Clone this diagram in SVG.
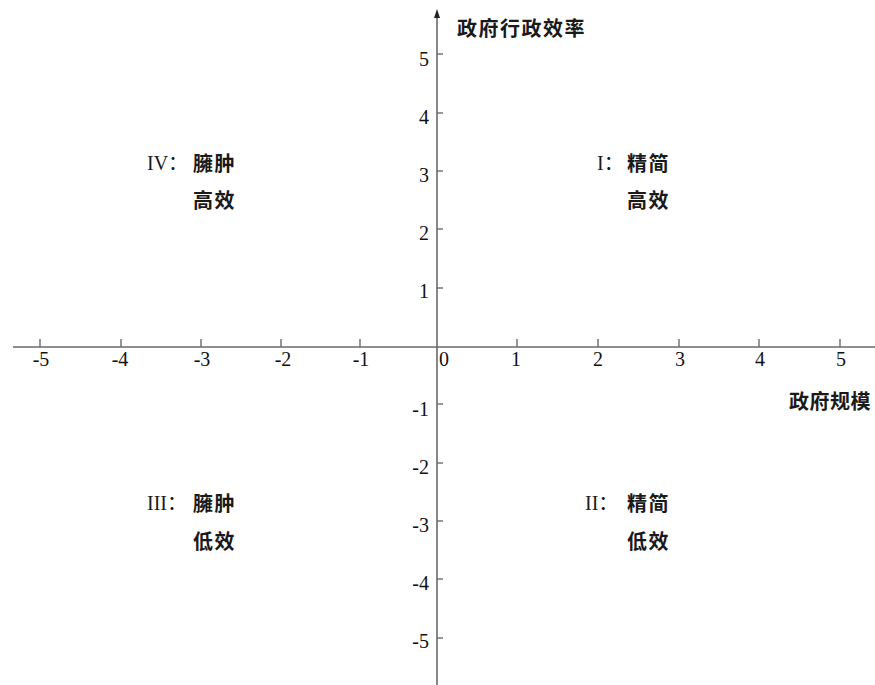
<svg xmlns="http://www.w3.org/2000/svg" width="875" height="685" viewBox="0 0 875 685">
<style>
.ax{stroke:#6a6a6a;stroke-width:1.6;fill:none}
.tk{stroke:#6a6a6a;stroke-width:1.4}
.num{font-family:"Liberation Serif","Noto Sans CJK SC",serif;font-size:20px;fill:#111}
.cjk{font-family:"Noto Sans CJK SC",sans-serif;font-size:20px;font-weight:bold;fill:#1a1a1a;letter-spacing:1.5px}
.rom{font-family:"Liberation Serif","Noto Sans CJK SC",serif;font-size:20px;fill:#1a1a1a}
</style>
<g id="connectors">
<line class="ax" x1="13" y1="347" x2="875" y2="347"/>
<line class="ax" x1="437" y1="685" x2="437" y2="14"/>
<path d="M437,9 L434,18 L440,18 Z" fill="#222"/>
</g>
<g id="x-ticks">
<line class="tk" x1="40" y1="339" x2="40" y2="347"/>
<line class="tk" x1="121" y1="339" x2="121" y2="347"/>
<line class="tk" x1="201" y1="339" x2="201" y2="347"/>
<line class="tk" x1="281" y1="339" x2="281" y2="347"/>
<line class="tk" x1="360" y1="339" x2="360" y2="347"/>
<line class="tk" x1="517" y1="339" x2="517" y2="347"/>
<line class="tk" x1="598" y1="339" x2="598" y2="347"/>
<line class="tk" x1="679" y1="339" x2="679" y2="347"/>
<line class="tk" x1="759" y1="339" x2="759" y2="347"/>
<line class="tk" x1="840" y1="339" x2="840" y2="347"/>
</g>
<g id="x-labels" class="num" text-anchor="middle">
<text x="41" y="366">-5</text>
<text x="120" y="366">-4</text>
<text x="202" y="366">-3</text>
<text x="283" y="366">-2</text>
<text x="361" y="366">-1</text>
<text x="444" y="366">0</text>
<text x="516" y="366">1</text>
<text x="598" y="366">2</text>
<text x="680" y="366">3</text>
<text x="760" y="366">4</text>
<text x="841" y="366">5</text>
</g>
<g id="y-ticks">
<line class="tk" x1="437" y1="54" x2="443" y2="54"/>
<line class="tk" x1="437" y1="113" x2="443" y2="113"/>
<line class="tk" x1="437" y1="171" x2="443" y2="171"/>
<line class="tk" x1="437" y1="229" x2="443" y2="229"/>
<line class="tk" x1="437" y1="288" x2="443" y2="288"/>
<line class="tk" x1="437" y1="404" x2="443" y2="404"/>
<line class="tk" x1="437" y1="463" x2="443" y2="463"/>
<line class="tk" x1="437" y1="521" x2="443" y2="521"/>
<line class="tk" x1="437" y1="579" x2="443" y2="579"/>
<line class="tk" x1="437" y1="638" x2="443" y2="638"/>
</g>
<g id="y-labels" class="num" text-anchor="end">
<text x="429" y="66">5</text>
<text x="429" y="124">4</text>
<text x="429" y="182">3</text>
<text x="429" y="240">2</text>
<text x="429" y="298">1</text>
<text x="429" y="416">-1</text>
<text x="429" y="474">-2</text>
<text x="429" y="532">-3</text>
<text x="429" y="590">-4</text>
<text x="429" y="648">-5</text>
</g>
<g id="axis-titles" class="cjk">
<text x="457" y="36">政府行政效率</text>
<text x="789" y="409" letter-spacing="0.5">政府规模</text>
</g>
<g id="q1">
<text class="rom" x="597" y="170">I：</text>
<text class="cjk" x="627" y="171">精简</text>
<text class="cjk" x="627" y="208">高效</text>
</g>
<g id="q2">
<text class="rom" x="585" y="510">II：</text>
<text class="cjk" x="627" y="511">精简</text>
<text class="cjk" x="627" y="549">低效</text>
</g>
<g id="q3">
<text class="rom" x="147" y="510">III：</text>
<text class="cjk" x="193" y="511">臃肿</text>
<text class="cjk" x="193" y="549">低效</text>
</g>
<g id="q4">
<text class="rom" x="147" y="170">IV：</text>
<text class="cjk" x="193" y="171">臃肿</text>
<text class="cjk" x="193" y="208">高效</text>
</g>
</svg>
